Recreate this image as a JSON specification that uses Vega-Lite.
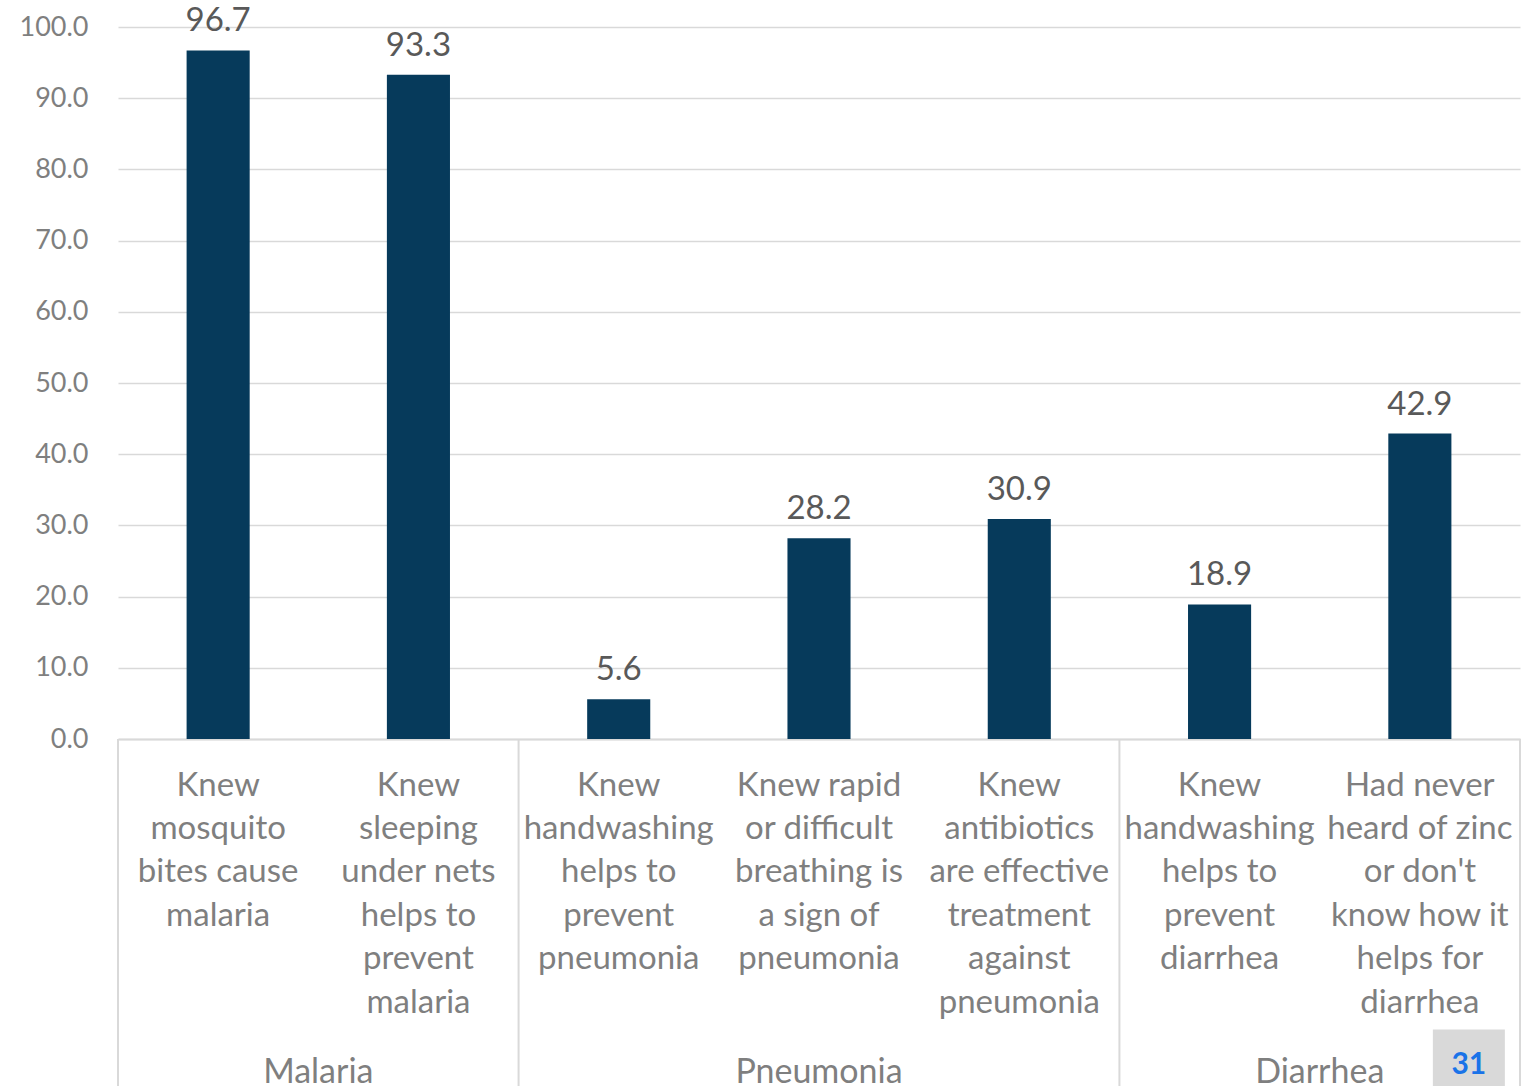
{
  "$schema": "https://vega.github.io/schema/vega-lite/v6.json",
  "autosize": "none",
  "width": 1402,
  "height": 712,
  "padding": {"left": 118, "top": 27, "right": 9, "bottom": 347},
  "background": "white",
  "config": {"view": {"stroke": null}, "font": "Lato"},
  "data": {
    "values": [
      {"group": "Malaria", "category": "Knew\nmosquito\nbites cause\nmalaria", "value": 96.7},
      {"group": "Malaria", "category": "Knew\nsleeping\nunder nets\nhelps to\nprevent\nmalaria", "value": 93.3},
      {"group": "Pneumonia", "category": "Knew\nhandwashing\nhelps to\nprevent\npneumonia", "value": 5.6},
      {"group": "Pneumonia", "category": "Knew rapid\nor difficult\nbreathing is\na sign of\npneumonia", "value": 28.2},
      {"group": "Pneumonia", "category": "Knew\nantibiotics\nare effective\ntreatment\nagainst\npneumonia", "value": 30.9},
      {"group": "Diarrhea", "category": "Knew\nhandwashing\nhelps to\nprevent\ndiarrhea", "value": 18.9},
      {"group": "Diarrhea", "category": "Had never\nheard of zinc\nor don't\nknow how it\nhelps for\ndiarrhea", "value": 42.9}
    ]
  },
  "encoding": {
    "x": {
      "field": "category",
      "type": "nominal",
      "sort": null,
      "scale": {"type": "band", "paddingInner": 0, "paddingOuter": 0},
      "axis": {
        "title": null,
        "labelAngle": 0,
        "labelExpr": "split(datum.label, '\\n')",
        "labelFont": "Lato",
        "labelFontSize": 33,
        "labelColor": "#7f7f7f",
        "labelLineHeight": 43.4,
        "labelPadding": 30,
        "labelBaseline": "top",
        "labelLimit": 0,
        "labelOverlap": false,
        "labelBound": false,
        "ticks": false,
        "domain": true,
        "domainColor": "#d9d9d9",
        "domainWidth": 2,
        "grid": false
      }
    }
  },
  "layer": [
    {
      "mark": {"type": "bar", "width": {"band": 0.315}, "color": "#063a5b"},
      "encoding": {
        "y": {
          "field": "value",
          "type": "quantitative",
          "scale": {"domain": [0, 100], "nice": false},
          "axis": {
            "title": null,
            "values": [0, 10, 20, 30, 40, 50, 60, 70, 80, 90, 100],
            "format": ".1f",
            "labelFont": "Lato",
            "labelFontSize": 27,
            "labelColor": "#7f7f7f",
            "labelPadding": 30,
            "ticks": false,
            "domain": false,
            "grid": true,
            "gridColor": "#d9d9d9",
            "gridWidth": 1.5
          }
        }
      }
    },
    {
      "mark": {"type": "text", "baseline": "alphabetic", "dy": -19, "fontSize": 33, "color": "#595959", "font": "Lato"},
      "encoding": {
        "y": {"field": "value", "type": "quantitative"},
        "text": {"field": "value", "type": "quantitative", "format": ".1f"}
      }
    },
    {
      "transform": [
        {"window": [{"op": "row_number", "as": "rn"}], "groupby": ["group"]},
        {"filter": "datum.rn == 1"}
      ],
      "mark": {"type": "rule", "color": "#d9d9d9", "strokeWidth": 2},
      "encoding": {
        "x": {"field": "category", "type": "nominal", "sort": null, "bandPosition": 0},
        "y": {"datum": 0, "type": "quantitative"},
        "y2": {"datum": -49}
      }
    },
    {
      "transform": [{"filter": "datum.group === 'Diarrhea'"}, {"aggregate": [{"op": "count", "as": "n"}]}],
      "mark": {"type": "rule", "color": "#d9d9d9", "strokeWidth": 2},
      "encoding": {
        "x": {"value": "width"},
        "y": {"datum": 0, "type": "quantitative"},
        "y2": {"datum": -49}
      }
    },
    {
      "transform": [
        {"window": [{"op": "row_number", "as": "rn"}], "groupby": ["group"]},
        {"joinaggregate": [{"op": "count", "as": "n"}], "groupby": ["group"]},
        {"filter": "datum.n % 2 == 0 && datum.rn == datum.n / 2"}
      ],
      "mark": {"type": "text", "baseline": "alphabetic", "fontSize": 34, "color": "#7f7f7f", "font": "Lato"},
      "encoding": {
        "x": {"field": "category", "type": "nominal", "sort": null, "bandPosition": 1},
        "y": {"datum": -48.3, "type": "quantitative"},
        "text": {"field": "group"}
      }
    },
    {
      "transform": [
        {"window": [{"op": "row_number", "as": "rn"}], "groupby": ["group"]},
        {"joinaggregate": [{"op": "count", "as": "n"}], "groupby": ["group"]},
        {"filter": "datum.n % 2 == 1 && datum.rn == (datum.n + 1) / 2"}
      ],
      "mark": {"type": "text", "baseline": "alphabetic", "fontSize": 34, "color": "#7f7f7f", "font": "Lato"},
      "encoding": {
        "x": {"field": "category", "type": "nominal", "sort": null, "bandPosition": 0.5},
        "y": {"datum": -48.3, "type": "quantitative"},
        "text": {"field": "group"}
      }
    },
    {
      "transform": [
        {"window": [{"op": "row_number", "as": "rn"}]},
        {"joinaggregate": [{"op": "count", "as": "n"}]},
        {"filter": "datum.rn == datum.n"}
      ],
      "mark": {"type": "bar", "width": 72, "xOffset": 49, "color": "#d9d9d9"},
      "encoding": {
        "x": {"field": "category", "type": "nominal", "sort": null},
        "y": {"datum": -40.8, "type": "quantitative"},
        "y2": {"datum": -49}
      }
    },
    {
      "transform": [
        {"window": [{"op": "row_number", "as": "rn"}]},
        {"joinaggregate": [{"op": "count", "as": "n"}]},
        {"filter": "datum.rn == datum.n"}
      ],
      "mark": {"type": "text", "xOffset": 49, "baseline": "middle", "fontSize": 30, "fontWeight": "bold", "color": "#1a73e8", "font": "Lato"},
      "encoding": {
        "x": {"field": "category", "type": "nominal", "sort": null},
        "y": {"datum": -45.8, "type": "quantitative"},
        "text": {"value": "31"}
      }
    }
  ]
}
